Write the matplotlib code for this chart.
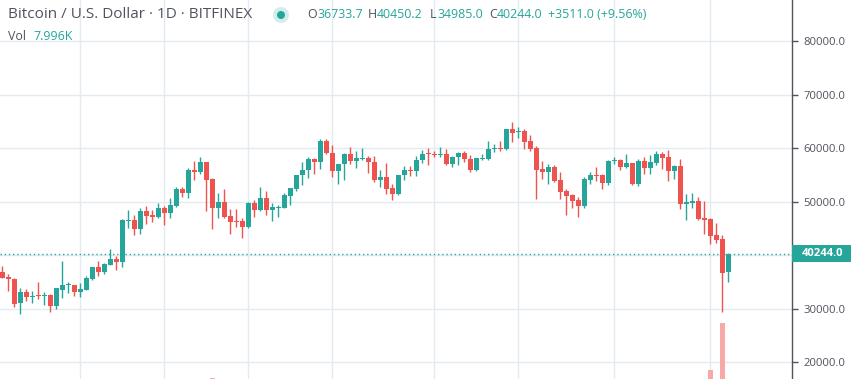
import matplotlib.pyplot as plt
from matplotlib.patches import Circle, Rectangle

# daily OHLC, BTC/USD Bitfinex, 19 Jan -> 20 May (day index 0..121)
opens = [36849, 35921, 35488, 30969, 33135, 32083, 32393, 32269, 32580, 30412,
         33384, 34373, 34435, 33073, 33507, 35550, 37778, 36849, 38149, 39263,
         38706, 46400, 46506, 44835, 48177, 47434, 47063, 48734, 47806, 49107,
         52262, 51519, 55976, 55605, 57462, 54120, 48734, 49850, 47248, 46320,
         46320, 45206, 49658, 48363, 50592, 48363, 48734, 48796, 51024, 52324,
         54924, 55852, 58019, 57338, 61362, 59133, 55667, 56967, 58948, 57524,
         58019, 58205, 57462, 53996, 54491, 52448, 51396, 54924, 55976, 55667,
         57710, 58948, 58824, 58700, 58948, 56967, 58267, 59133, 58019, 55852,
         58019, 58019, 59876, 60062, 59752, 63590, 62909, 63219, 61362, 60062,
         56162, 55605, 56534, 53934, 51891, 51148, 50220, 49106, 53934, 55048,
         54863, 53377, 57524, 57834, 56534, 57276, 53191, 57648, 56348, 57276,
         58948, 58391, 55790, 56719, 49478, 49663, 50034, 46877, 46691, 43720,
         42978, 36733.7]
highs = [37964, 36478, 35735, 33878, 33693, 33321, 34992, 33135, 32764, 33878,
         38892, 34992, 34435, 34807, 36107, 37778, 38892, 38521, 41120, 39821,
         46692, 48363, 47434, 48734, 49107, 48363, 49658, 49107, 50592, 52633,
         52633, 56349, 57648, 58391, 57462, 54305, 51519, 52262, 48549, 48549,
         46877, 49850, 50221, 52633, 51891, 49658, 49292, 51519, 52448, 55048,
         57462, 58391, 58205, 61733, 61733, 60619, 57091, 59133, 60248, 59505,
         60062, 58577, 58577, 55976, 57276, 53191, 55048, 56719, 56719, 58577,
         59690, 60062, 59505, 60248, 59876, 58577, 59319, 59505, 58762, 58205,
         58948, 61362, 60805, 61362, 63590, 64952, 63961, 63590, 62476, 60433,
         57648, 57091, 56905, 55605, 52262, 51334, 50777, 54491, 55605, 56534,
         55233, 57834, 58391, 58019, 58948, 57276, 58019, 58391, 58762, 59505,
         59319, 59690, 56905, 58019, 51334, 51519, 50777, 50034, 46877, 45949,
         43720, 40450.2]
lows = [35673, 33197, 30226, 28926, 31340, 30969, 31835, 30721, 29298, 29855,
        31898, 32826, 32269, 32207, 33400, 35364, 36107, 36478, 38149, 37221,
        37778, 45020, 43720, 43906, 45724, 46134, 46877, 45577, 46877, 48920,
        50778, 50592, 53934, 55233, 48177, 44835, 46877, 46877, 43906, 45206,
        43163, 45100, 47063, 48177, 47434, 46320, 47063, 48734, 49354, 51953,
        53067, 54367, 55110, 56038, 58900, 54553, 53253, 53996, 56967, 56224,
        57834, 55295, 53624, 52696, 51396, 50282, 51210, 53996, 54739, 54739,
        57153, 56781, 58267, 58267, 56781, 56410, 56781, 57338, 55481, 55667,
        57710, 57834, 59195, 59381, 59690, 61176, 61919, 59876, 59505, 50406,
        54120, 53191, 53562, 50406, 47434, 48734, 47063, 48734, 53191, 53748,
        52262, 53005, 57091, 55976, 56348, 53005, 52819, 55233, 55233, 56905,
        56162, 53748, 54120, 48549, 46506, 48734, 46506, 43906, 42048, 42235,
        29421, 34985.0]
closes = [35735, 35426, 30783, 33135, 32083, 32393, 32269, 32580, 30412, 33769,
          34435, 34497, 33135, 33693, 35735, 37778, 36849, 38335, 39263, 38706,
          46506, 46500, 44835, 48177, 47248, 47063, 48734, 47806, 49292, 52262,
          51519, 55976, 55605, 57462, 53934, 48734, 49850, 47063, 46134, 46196,
          45206, 49658, 48363, 50592, 48363, 48920, 48920, 51148, 52448, 55048,
          55976, 58019, 57338, 61362, 59010, 55667, 57091, 58948, 57524, 58205,
          58205, 57338, 53996, 54491, 52324, 51396, 55048, 55976, 55667, 57834,
          58948, 58824, 58700, 58948, 56967, 58391, 59133, 57896, 55852, 58205,
          58205, 59876, 60062, 59752, 63590, 62847, 63219, 61176, 59876, 55976,
          55605, 56534, 53748, 51705, 50963, 50034, 49106, 54120, 55048, 54677,
          53377, 57648, 57834, 56534, 57276, 53191, 57648, 56348, 57462, 58948,
          58205, 55790, 56719, 49478, 49849, 50034, 46691, 46506, 43534, 42792,
          36733, 40244.0]

# only the tallest volume bars reach into the visible part of the pane (K BTC)
vol_days = [35, 118, 120, 121]
vol_values = [10.3, 14.0, 36.0, 7.996]

grid_days = [13, 27, 41, 55, 72, 86, 102, 118]
price_ticks = [20000, 30000, 40000, 50000, 60000, 70000, 80000]
last_price = closes[-1]

UP = "#26a69a"
DOWN = "#ef5350"
TEXT = "#50535e"
GRID = "#e4eaf1"

plt.rcParams["font.family"] = ["Open Sans", "DejaVu Sans"]

W, H = 856, 379
fig = plt.figure(figsize=(W / 100, H / 100), dpi=100)
ax = fig.add_axes([0, 0, 792 / W, 1])
ax.set_xlim(-0.38, 131.62)
ax.set_ylim(16828, 87664)

days = list(range(len(opens)))
cols = [UP if c >= o else DOWN for o, c in zip(opens, closes)]
bottoms = [min(o, c) for o, c in zip(opens, closes)]
heights = [max(abs(c - o), 190) for o, c in zip(opens, closes)]

ax.vlines(days, lows, highs, colors=cols, linewidth=1, zorder=3)
ax.bar(days, heights, bottom=bottoms, width=0.82, color=cols, linewidth=0, zorder=4)

# last price line
ax.axhline(last_price, color=UP, linestyle=(0, (1, 2)), linewidth=1, zorder=2)

# volume overlay (pane bottom is below the visible area)
vax = ax.twinx()
vax.set_ylim(9.8, 187)
vax.bar(vol_days, vol_values, width=0.82, color="#f7a9a7", linewidth=0)
vax.set_axis_off()

# grid and price scale
ax.set_xticks(grid_days)
ax.set_yticks(price_ticks)
ax.set_yticklabels(["" if v == 40000 else f"{v:.1f}" for v in price_ticks])
ax.grid(color=GRID, linewidth=1, zorder=0)
ax.tick_params(axis="x", length=0, labelbottom=False)
ax.yaxis.tick_right()
ax.yaxis.set_label_position("right")
ax.tick_params(axis="y", direction="out", length=4, width=1, color=TEXT,
               labelsize=8.1, labelcolor=TEXT, pad=4.3)
for s in ["left", "top", "bottom"]:
    ax.spines[s].set_visible(False)
ax.spines["right"].set_color(TEXT)
ax.spines["right"].set_linewidth(1)

# price label on the axis
tr = fig.dpi_scale_trans
ypix = ax.transData.transform((0, last_price))[1] / 100
fig.add_artist(Rectangle((7.92, ypix - 0.085), 0.59, 0.17, transform=tr,
                         facecolor=UP, edgecolor="none"))
fig.text(8.225, ypix, f"{last_price:.1f}", transform=tr, color="white",
         fontsize=8.1, fontweight="bold", ha="center", va="center")

# header
y1 = (H - 15) / 100
fig.text(0.08, y1, "Bitcoin / U.S. Dollar · 1D · BITFINEX", transform=tr,
         color=TEXT, fontsize=11, ha="left", va="center")
fig.add_artist(Circle((2.81, y1), 0.08, transform=tr, facecolor="#d3eeea", edgecolor="none"))
fig.add_artist(Circle((2.81, y1), 0.04, transform=tr, facecolor=UP, edgecolor="none"))
change = closes[-1] - closes[-2]
parts = [(3.07, "O", TEXT), (3.17, f"{opens[-1]:.1f}", UP),
         (3.68, "H", TEXT), (3.77, f"{highs[-1]:.1f}", UP),
         (4.30, "L", TEXT), (4.37, f"{lows[-1]:.1f}", UP),
         (4.89, "C", TEXT), (4.97, f"{closes[-1]:.1f}", UP),
         (5.48, f"+{change:.1f} (+{change / closes[-2] * 100:.2f}%)", UP)]
for x, s, c in parts:
    fig.text(x, y1, s, transform=tr, color=c, fontsize=8.9, ha="left", va="center")
y2 = (H - 37) / 100
fig.text(0.08, y2, "Vol", transform=tr, color=TEXT, fontsize=8.9, ha="left", va="center")
fig.text(0.33, y2, f"{vol_values[-1]:.3f}K", transform=tr, color=UP, fontsize=8.9,
         ha="left", va="center")

fig.savefig("out.png", dpi=100)
